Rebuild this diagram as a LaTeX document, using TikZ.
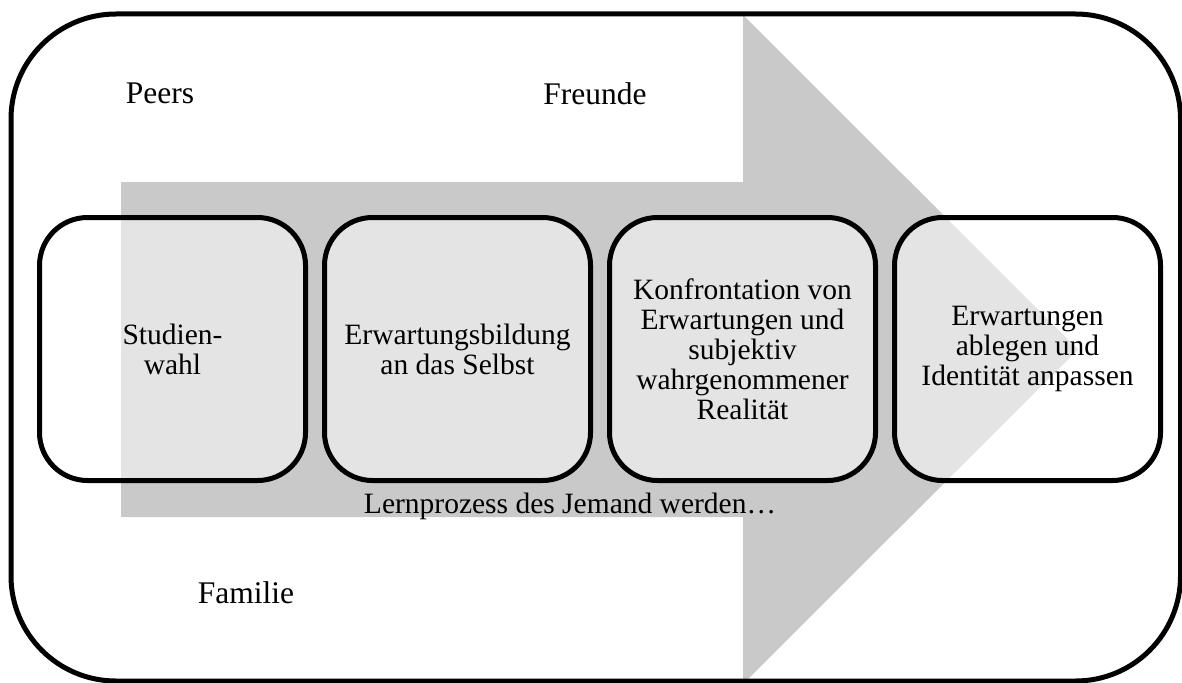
\documentclass[tikz,border=0pt]{standalone}
\usepackage{fontspec}
\setmainfont{Liberation Serif}
\definecolor{arrowgray}{HTML}{C9C9C9}
\tikzset{
  stage/.style={draw=black, line width=5pt, rounded corners=48pt, fill=white, fill opacity=0.5, text opacity=1,
    minimum width=266pt, minimum height=263pt, inner sep=0pt, align=center,
    font=\fontsize{29.5}{30}\selectfont},
  outerlabel/.style={inner sep=0pt, anchor=base, font=\fontsize{31.5}{34}\selectfont},
  framebox/.style={draw=black, line width=5pt, rounded corners=105pt},
  bigarrow/.style={fill=arrowgray, draw=none}
}
\begin{document}
\begin{tikzpicture}[x=1pt, y=-1pt]
\useasboundingbox (0,0) rectangle (1182,682);
\fill[white] (0,0) rectangle (1182,682);
% big arrow
\fill[bigarrow] (121,182) -- (743,182) -- (743,15) -- (1078,349.5) -- (743,684) -- (743,517) -- (121,517) -- cycle;
% outer frame
\draw[framebox] (11,14) rectangle (1180.5,681);
% stages
\node[stage] (s1) at (172.5,349) {Studien-\\wahl};
\node[stage] (s2) at (457.5,349) {Erwartungsbildung\\an das Selbst};
\node[stage] (s3) at (742.5,349) {Konfrontation von\\Erwartungen und\\subjektiv\\wahrgenommener\\Realität};
\node[stage] (s4) at (1027.5,349) {Erwartungen\\ablegen und\\Identität anpassen};
% labels
\node[outerlabel] (peers) at (160,104) {Peers};
\node[outerlabel] (freunde) at (595,105) {Freunde};
\node[outerlabel] (familie) at (246,603) {Familie};
\node[inner sep=0pt, anchor=base, font=\fontsize{29.5}{30}\selectfont] (lern) at (570,513) {Lernprozess des Jemand werden…};
\end{tikzpicture}
\end{document}
